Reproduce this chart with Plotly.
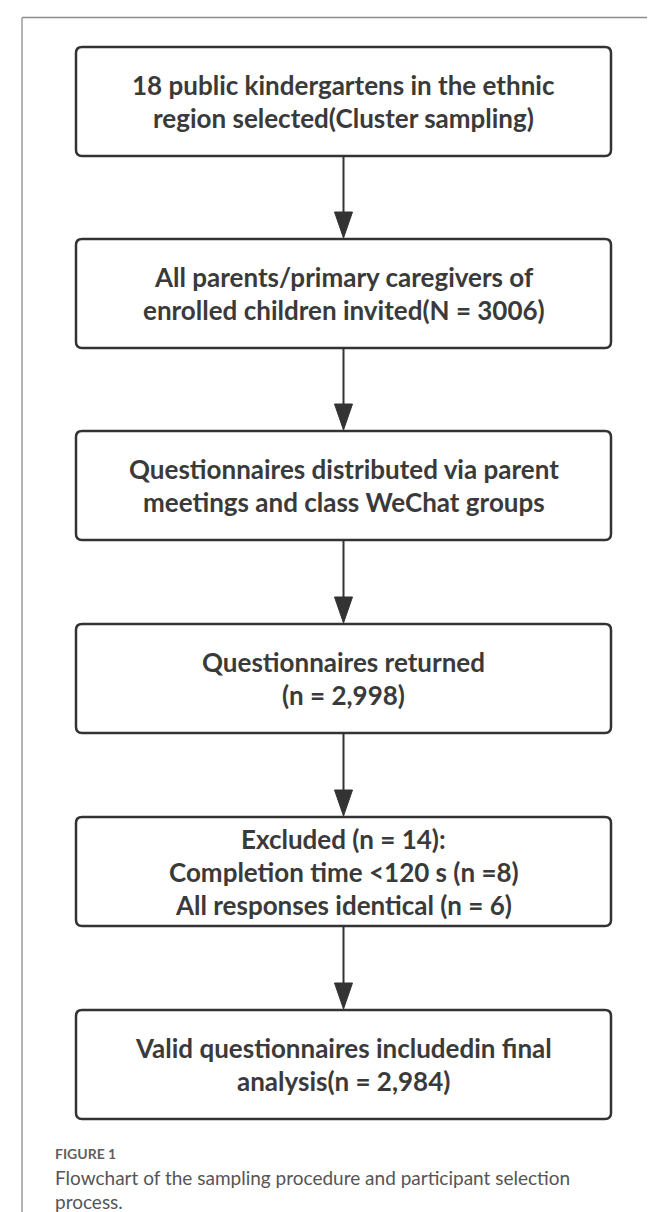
import plotly.graph_objects as go

# ---- Content ----
box_texts = [
    ["18 public kindergartens in the ethnic", "region selected(Cluster sampling)"],
    ["All parents/primary caregivers of", "enrolled children invited(N = 3006)"],
    ["Questionnaires distributed via parent", "meetings and class WeChat groups"],
    ["Questionnaires returned", "(n = 2,998)"],
    ["Excluded (n = 14):", "Completion time <120 s (n =8)", "All responses identical (n = 6)"],
    ["Valid questionnaires includedin final", "analysis(n = 2,984)"],
]
caption_label = "FIGURE 1"
caption_lines = ["Flowchart of the sampling procedure and participant selection", "process."]

# ---- Layout geometry (pixels) ----
W, H = 655, 1212
box_left, box_right = 68, 603
box_tops = [39, 231, 423, 616, 809, 1002]
box_h = 109
line_gap = 33
radius = 6
cx = (box_left + box_right) / 2
ink = "#333333"
text_col = "#3a3a3a"

def rounded_rect(x0, y0, x1, y1, r):
    return (f"M {x0+r},{y0} L {x1-r},{y0} Q {x1},{y0} {x1},{y0+r} "
            f"L {x1},{y1-r} Q {x1},{y1} {x1-r},{y1} L {x0+r},{y1} "
            f"Q {x0},{y1} {x0},{y1-r} L {x0},{y0+r} Q {x0},{y0} {x0+r},{y0} Z")

shapes = []
annotations = []

# frame lines
shapes.append(dict(type="line", x0=14, x1=W, y0=9.5, y1=9.5,
                   line=dict(color="#8c8c8c", width=1.3)))
shapes.append(dict(type="line", x0=14, x1=14, y0=9.5, y1=H,
                   line=dict(color="#8c8c8c", width=1.3)))

for i, (top, lines) in enumerate(zip(box_tops, box_texts)):
    bottom = top + box_h
    shapes.append(dict(type="path", path=rounded_rect(box_left, top, box_right, bottom, radius),
                       line=dict(color=ink, width=2.5), fillcolor="white"))
    center = (top + bottom) / 2
    n = len(lines)
    for j, t in enumerate(lines):
        y = center + (j - (n - 1) / 2) * line_gap
        annotations.append(dict(x=cx, y=y, text=t, showarrow=False, xanchor="center",
                                yanchor="middle",
                                font=dict(family="Lato", size=26, color=text_col,
                                          weight="bold")))
    if i < len(box_tops) - 1:
        nxt = box_tops[i + 1]
        head_h = 27
        shapes.append(dict(type="line", x0=cx, x1=cx, y0=bottom, y1=nxt - head_h + 2,
                           line=dict(color=ink, width=2)))
        shapes.append(dict(type="path",
                           path=f"M {cx-9},{nxt-head_h} L {cx+9},{nxt-head_h} L {cx},{nxt-1} Z",
                           line=dict(color=ink, width=1), fillcolor=ink))

# caption
annotations.append(dict(x=45, y=1145, text=caption_label, showarrow=False, xanchor="left",
                        yanchor="middle",
                        font=dict(family="Lato", size=14, color="#5f5f5f", weight="bold")))
for k, t in enumerate(caption_lines):
    annotations.append(dict(x=45, y=1169 + k * 24, text=t, showarrow=False, xanchor="left",
                            yanchor="middle",
                            font=dict(family="Lato", size=19, color="#555555")))

fig = go.Figure()
fig.update_layout(
    width=W, height=H,
    margin=dict(l=0, r=0, t=0, b=0),
    paper_bgcolor="white", plot_bgcolor="white",
    xaxis=dict(range=[0, W], visible=False, fixedrange=True),
    yaxis=dict(range=[H, 0], visible=False, fixedrange=True),
    shapes=shapes, annotations=annotations,
    showlegend=False,
)
fig.write_html("out.html", config={"displayModeBar": False})
